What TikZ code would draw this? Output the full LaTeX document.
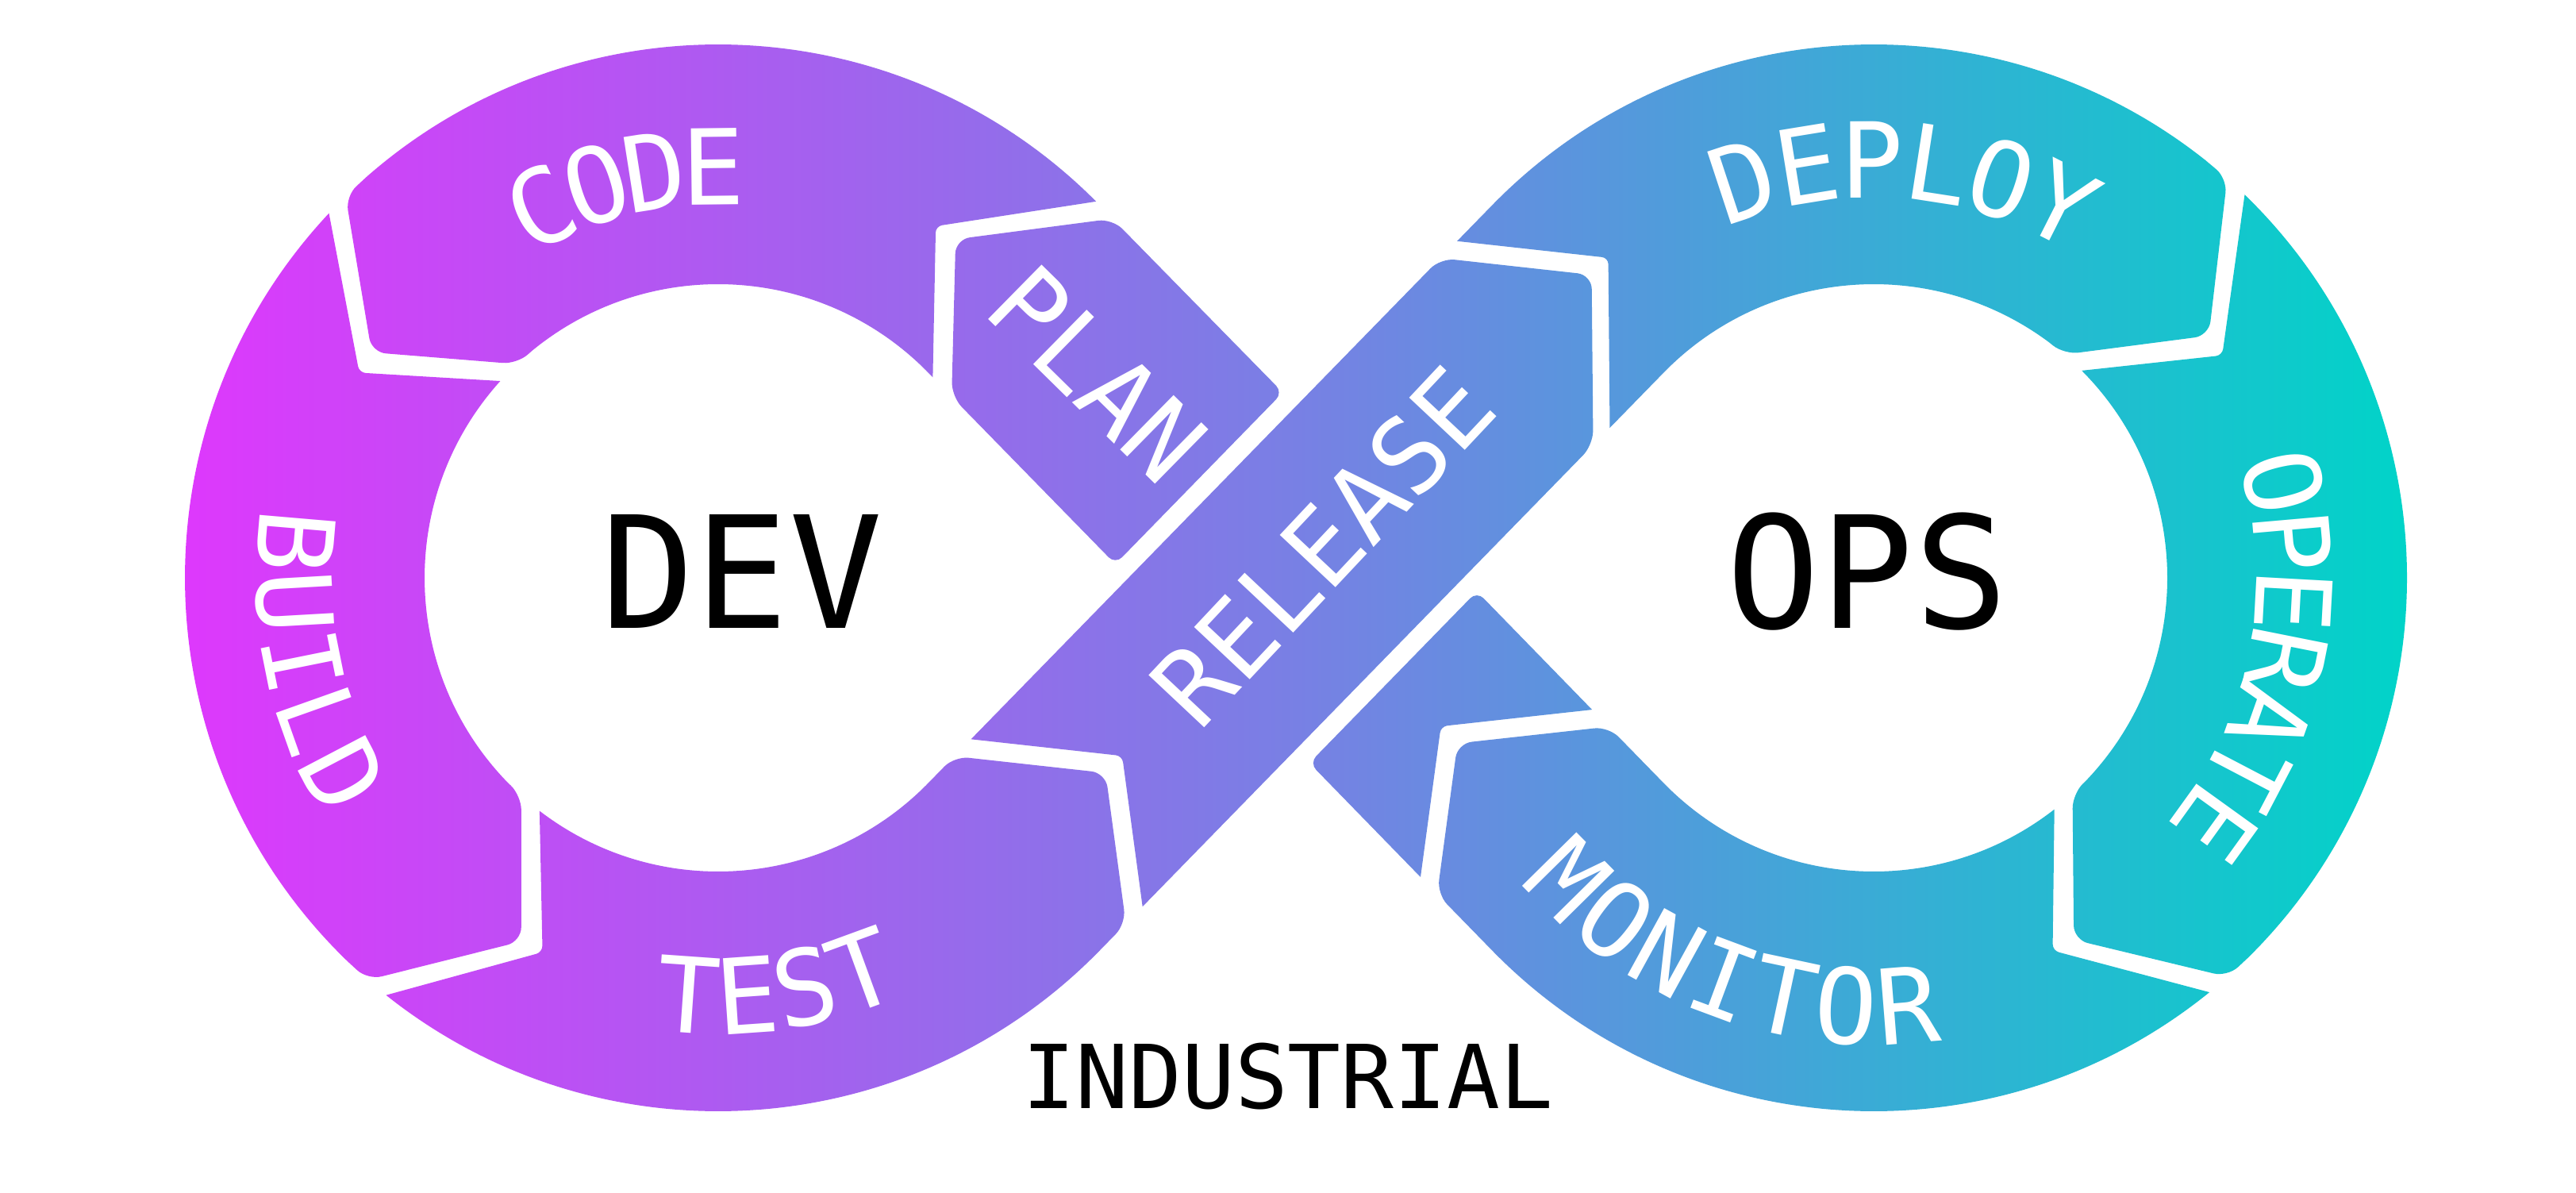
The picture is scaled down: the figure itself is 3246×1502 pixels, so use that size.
\documentclass[tikz,border=0pt]{standalone}
\usepackage{fontspec}
\usetikzlibrary{calc}
\newfontfamily\monofam{DejaVu Sans Mono}
\definecolor{cA}{RGB}{222,56,252}
\definecolor{cB}{RGB}{120,128,228}
\definecolor{cC}{RGB}{0,212,200}
\pgfdeclarehorizontalshading{devops}{100bp}{color(0bp)=(cA); color(25bp)=(cA); color(50bp)=(cB); color(75bp)=(cC); color(100bp)=(cC)}
\newcommand\lblfmt{\monofam\fontsize{37.5pt}{40pt}\selectfont}
\newcommand\rOut{672}
\newcommand\rIn{370}
\newcommand\rMid{521}
\newcommand\bAng{44.30}
\newcommand\aAng{45.70}
\begin{document}
\begin{tikzpicture}[x=0.01cm,y=0.01cm,
  rcA/.style={rounded corners=0.18cm},
  rcB/.style={rounded corners=0.08cm},
  rcC/.style={rounded corners=0.12cm},
  lbl/.style={text=white,font=\lblfmt,inner sep=0pt,text height=27.3pt,text depth=0pt},
  big/.style={text=black,font=\monofam\fontsize{55.8pt}{60pt}\selectfont,inner sep=0pt},
  ind/.style={text=black,font=\monofam\fontsize{31.6pt}{34pt}\selectfont,inner sep=0pt}]
\useasboundingbox (0,0) rectangle (3246,1502);
\fill[white] (0,0) rectangle (3246,1502);
% centres and tangent points
\coordinate (L) at (905,774);
\coordinate (Rc) at (2361,774);
\coordinate (X) at (1633,774);
\coordinate (T1) at ($(L)+(\bAng:\rMid)$);
\coordinate (T2) at ($(L)+(-\bAng:\rMid)$);
\coordinate (T3) at ($(Rc)+({180+\bAng}:\rMid)$);
\coordinate (T4) at ($(Rc)+({180-\bAng}:\rMid)$);
% separator 1 (PLAN -> CODE)
\coordinate (N1o) at ($(L)+(44.88:\rOut)$);
\coordinate (N1m) at ($(L)+(58.25:\rMid)$);
\coordinate (N1i) at ($(T1)+(\bAng:-151)+(-\aAng:8)$);
\coordinate (A1o) at ($(L)+(42.32:\rOut)$);
\coordinate (A1m) at ($(L)+(54.95:\rMid)$);
\coordinate (A1i) at ($(T1)+(\bAng:-151)+(-\aAng:42)$);
% separator 2 (CODE -> BUILD)
\coordinate (N2o) at ($(L)+(136.88:\rOut)$);
\coordinate (N2m) at ($(L)+(150.25:\rMid)$);
\coordinate (A2o) at ($(L)+(134.32:\rOut)$);
\coordinate (A2m) at ($(L)+(146.95:\rMid)$);
\coordinate (A2i) at ($(L)+(133.28:\rIn)$);
% separator 3 (BUILD -> TEST)
\coordinate (N3o) at ($(L)+(231.48:\rOut)$);
\coordinate (N3m) at ($(L)+(244.85:\rMid)$);
\coordinate (A3o) at ($(L)+(228.92:\rOut)$);
\coordinate (A3m) at ($(L)+(241.55:\rMid)$);
\coordinate (A3i) at ($(L)+(227.88:\rIn)$);
% separator 4 (TEST -> RELEASE)
\coordinate (N4p) at ($(T2)+(\aAng:77)+(-\bAng:151)$);
\coordinate (N4m) at ($(T2)+(\aAng:195)$);
\coordinate (N4q) at ($(T2)+(\aAng:77)+(-\bAng:-151)$);
\coordinate (A4p) at ($(T2)+(\aAng:47)+(-\bAng:151)$);
\coordinate (A4m) at ($(T2)+(\aAng:165)$);
\coordinate (A4q) at ($(T2)+(\aAng:47)+(-\bAng:-151)$);
% separator 5 (RELEASE -> DEPLOY)
\coordinate (N5q) at ($(T4)+(\aAng:-63)+(-\bAng:-151)$);
\coordinate (N5m) at ($(T4)+(\aAng:55)$);
\coordinate (N5p) at ($(T4)+(\aAng:-97)+(-\bAng:151)$);
\coordinate (A5q) at ($(T4)+(\aAng:-93)+(-\bAng:-151)$);
\coordinate (A5m) at ($(T4)+(\aAng:25)$);
\coordinate (A5p) at ($(T4)+(\aAng:-127)+(-\bAng:151)$);
% separator 6 (DEPLOY -> OPERATE)
\coordinate (N6o) at ($(Rc)+(45.92:\rOut)$);
\coordinate (N6m) at ($(Rc)+(32.55:\rMid)$);
\coordinate (A6o) at ($(Rc)+(48.48:\rOut)$);
\coordinate (A6m) at ($(Rc)+(35.85:\rMid)$);
\coordinate (A6i) at ($(Rc)+(49.52:\rIn)$);
% separator 7 (OPERATE -> MONITOR)
\coordinate (N7o) at ($(Rc)+(-50.98:\rOut)$);
\coordinate (N7m) at ($(Rc)+(-64.35:\rMid)$);
\coordinate (A7o) at ($(Rc)+(-48.42:\rOut)$);
\coordinate (A7m) at ($(Rc)+(-61.05:\rMid)$);
\coordinate (A7i) at ($(Rc)+(-47.38:\rIn)$);
% separator 8 (MONITOR -> lower diagonal)
\coordinate (N8o) at ($(T3)+({180-\aAng}:129)+(\bAng:-151)$);
\coordinate (N8m) at ($(T3)+({180-\aAng}:247)$);
\coordinate (N8i) at ($(T3)+({180-\aAng}:129)+(\bAng:151)$);
\coordinate (A8o) at ($(T3)+({180-\aAng}:99)+(\bAng:-151)$);
\coordinate (A8m) at ($(T3)+({180-\aAng}:217)$);
\coordinate (A8i) at ($(T3)+({180-\aAng}:99)+(\bAng:151)$);
% crossing cuts
\coordinate (E1q) at ($(T3)+(\bAng:-151)$);
\coordinate (E2q) at ($(T1)+(\bAng:-151)$);
\coordinate (E1p) at ($(T3)+(\bAng:151)$);
\coordinate (E2p) at ($(T1)+(\bAng:151)$);
\coordinate (cP1) at ($(X)+(-\bAng:-175)+(\aAng:-600)$);
\coordinate (cP2) at ($(X)+(-\bAng:-175)+(\aAng:600)$);
\coordinate (cT1) at ($(X)+(-\bAng:175)+(\aAng:-600)$);
\coordinate (cT2) at ($(X)+(-\bAng:175)+(\aAng:600)$);
\coordinate (Cpq) at (intersection of E1q--E2q and cP1--cP2);
\coordinate (Cpp) at (intersection of E1p--E2p and cP1--cP2);
\coordinate (Ctq) at (intersection of E1q--E2q and cT1--cT2);
\coordinate (Ctp) at (intersection of E1p--E2p and cT1--cT2);
% all nine segments, one global gradient
\begin{scope}
\clip
 % CODE
 (N1o) arc[start angle=44.88,end angle=131.32,radius=\rOut] [rcA] -- (A2o) -- (A2m) -- (A2i) [sharp corners]
   -- ($(L)+(129.28:\rIn)$) arc[start angle=129.28,end angle=\bAng,radius=\rIn] -- (N1i) [rcB] -- (N1m) [sharp corners] -- cycle
 % BUILD
 (N2o) arc[start angle=136.88,end angle=225.92,radius=\rOut] [rcA] -- (A3o) -- (A3m) -- (A3i) [sharp corners]
   -- ($(L)+(223.88:\rIn)$) arc[start angle=223.88,end angle=137.92,radius=\rIn] [rcB] -- (N2m) [sharp corners] -- cycle
 % TEST
 (N3o) arc[start angle=231.48,end angle={360-\bAng},radius=\rOut] -- ($(T2)+(\aAng:22)+(-\bAng:151)$)
   [rcA] -- (A4p) -- (A4m) -- (A4q) [sharp corners] -- ($(T2)+(\aAng:22)+(-\bAng:-151)$)
   -- ($(L)+(-\bAng:\rIn)$) arc[start angle={360-\bAng},end angle=232.52,radius=\rIn] [rcB] -- (N3m) [sharp corners] -- cycle
 % RELEASE
 (N4p) -- ($(T4)+(\aAng:-152)+(-\bAng:151)$) [rcA] -- (A5p) -- (A5m) -- (A5q) [sharp corners]
   -- ($(T4)+(\aAng:-118)+(-\bAng:-151)$) -- (N4q) [rcB] -- (N4m) [sharp corners] -- cycle
 % DEPLOY
 (N5q) -- ($(T4)+(-\bAng:-151)$) arc[start angle={180-\bAng},end angle=51.48,radius=\rOut]
   [rcA] -- (A6o) -- (A6m) -- (A6i) [sharp corners]
   -- ($(Rc)+(53.52:\rIn)$) arc[start angle=53.52,end angle={180-\bAng},radius=\rIn] -- (N5p) [rcB] -- (N5m) [sharp corners] -- cycle
 % OPERATE
 (N6o) arc[start angle=45.92,end angle=-45.42,radius=\rOut] [rcA] -- (A7o) -- (A7m) -- (A7i) [sharp corners]
   -- ($(Rc)+(-43.38:\rIn)$) arc[start angle=-43.38,end angle=44.88,radius=\rIn] [rcB] -- (N6m) [sharp corners] -- cycle
 % MONITOR
 (N7o) arc[start angle=-50.98,end angle={\bAng-180},radius=\rOut] -- ($(T3)+({180-\aAng}:74)+(\bAng:-151)$)
   [rcA] -- (A8o) -- (A8m) -- (A8i) [sharp corners] -- ($(T3)+({180-\aAng}:74)+(\bAng:151)$)
   -- (E1p) arc[start angle={\bAng-180},end angle=-52.02,radius=\rIn] [rcB] -- (N7m) [sharp corners] -- cycle
 % lower diagonal (tail of MONITOR)
 (N8o) [rcC] -- (Ctq) -- (Ctp) [sharp corners] -- (N8i) [rcB] -- (N8m) [sharp corners] -- cycle
 % PLAN
 (Cpq) -- ($(A1i)+(-\aAng:25)$) [rcA] -- (A1i) -- (A1m) -- (A1o) [sharp corners] -- ($(A1o)+(-\aAng:25)$)
   [rcC] -- (Cpp) -- cycle;
\shade[shading=devops] (230,0) rectangle (3040,1502);
\end{scope}
% labels along the loops, one letter at a time
\foreach \lettr [count=\idx] in {C,O,D,E}
  \node[lbl,rotate={103.1+(2.5-\idx)*8.30-90}] (code\idx) at ($(L)+({103.1+(2.5-\idx)*8.30}:518)$) {\lettr};
\foreach \lettr [count=\idx] in {B,U,I,L,D}
  \node[lbl,rotate={191.4+(\idx-3)*8.15+90}] (build\idx) at ($(L)+({191.4+(\idx-3)*8.15}:534)$) {\lettr};
\foreach \lettr [count=\idx] in {T,E,S,T}
  \node[lbl,rotate={278+(\idx-2.5)*8.05+90}] (test\idx) at ($(L)+({278+(\idx-2.5)*8.05}:527)$) {\lettr};
\foreach \lettr [count=\idx] in {D,E,P,L,O,Y}
  \node[lbl,rotate={85.7+(3.5-\idx)*9.02-90}] (deploy\idx) at ($(Rc)+({85.7+(3.5-\idx)*9.02}:527)$) {\lettr};
\foreach \lettr [count=\idx] in {O,P,E,R,A,T,E}
  \node[lbl,rotate={-11.3+(4-\idx)*8.16-90}] (operate\idx) at ($(Rc)+({-11.3+(4-\idx)*8.16}:530)$) {\lettr};
\foreach \lettr [count=\idx] in {M,O,N,I,T,O,R}
  \node[lbl,rotate={249.6+(\idx-4)*8.33+90}] (monitor\idx) at ($(Rc)+({249.6+(\idx-4)*8.33}:540)$) {\lettr};
\node[lbl,rotate=-44.5] (plan) at (1383,1031) {PLAN};
\node[lbl,rotate=46.8] (rel) at (1667,814) {RELEASE};
\node[big] (dev) at (935,782) {DEV};
\node[big] (ops) at (2353,782) {OPS};
\node[ind] (ind) at (1623,146) {INDUSTRIAL};
\end{tikzpicture}
\end{document}
